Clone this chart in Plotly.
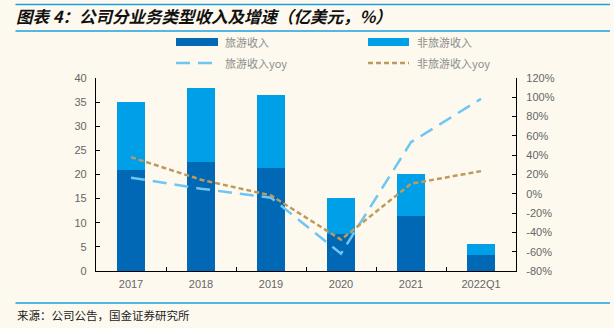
import plotly.graph_objects as go

categories = ["2017", "2018", "2019", "2020", "2021", "2022Q1"]
tour_rev = [21.0, 22.6, 21.3, 7.6, 11.5, 3.3]
total_rev = [35.0, 38.0, 36.5, 15.2, 20.2, 5.7]
nontour_rev = [round(t - a, 2) for t, a in zip(total_rev, tour_rev)]
tour_yoy = [16.7, 5.3, -4.0, -62.0, 53.5, 98.4]
nontour_yoy = [38.0, 14.6, -1.7, -47.5, 10.4, 23.5]

left_ticks = list(range(0, 45, 5))
right_ticks = list(range(-80, 140, 20))

C_DARK = "#0068b5"
C_LIGHT = "#00a0e8"
C_LINE1 = "#6ec6f2"
C_LINE2 = "#c09a5c"
BG = "#fdf9ef"
RULE = "#1a9fe0"
TXT = "#666666"
LEG = "#8c8c8c"
FONT = "Liberation Sans, Noto Sans CJK SC, sans-serif"
CJK = "Noto Sans CJK SC, sans-serif"

W, H = 614, 328
L, R, T, B = 96, 516, 78, 271

fig = go.Figure()
fig.add_trace(go.Bar(x=categories, y=tour_rev, name="旅游收入", marker=dict(color=C_DARK, line=dict(width=0)),
                     width=0.41, showlegend=False))
fig.add_trace(go.Bar(x=categories, y=nontour_rev, name="非旅游收入", marker=dict(color=C_LIGHT, line=dict(width=0)),
                     width=0.41, showlegend=False))
fig.add_trace(go.Scatter(x=categories, y=tour_yoy, name="旅游收入yoy", mode="lines", yaxis="y2",
                         line=dict(color=C_LINE1, width=2.5, dash="14px,8px"), showlegend=False))
fig.add_trace(go.Scatter(x=categories, y=nontour_yoy, name="非旅游收入yoy", mode="lines", yaxis="y2",
                         line=dict(color=C_LINE2, width=2.5, dash="5px,3px"), showlegend=False))


def px(x):
    return (x - L) / (R - L)


def py(y):
    return (B - y) / (B - T)


shapes = []
for yy in (4.5, 31, 303):
    shapes.append(dict(type="line", xref="paper", yref="paper", x0=px(15.5), x1=px(610), y0=py(yy), y1=py(yy),
                       line=dict(color=RULE, width=1.5)))
shapes.append(dict(type="rect", xref="paper", yref="paper", x0=px(176), x1=px(218), y0=py(46), y1=py(38),
                   fillcolor=C_DARK, line=dict(width=0)))
shapes.append(dict(type="rect", xref="paper", yref="paper", x0=px(368), x1=px(409), y0=py(46), y1=py(38),
                   fillcolor=C_LIGHT, line=dict(width=0)))
shapes.append(dict(type="line", xref="paper", yref="paper", x0=px(176), x1=px(218), y0=py(63), y1=py(63),
                   line=dict(color=C_LINE1, width=2.5, dash="14px,8px")))
shapes.append(dict(type="line", xref="paper", yref="paper", x0=px(368), x1=px(409), y0=py(63), y1=py(63),
                   line=dict(color=C_LINE2, width=2.5, dash="5px,3px")))

annotations = [
    dict(text="<b><i>图表 4：公司分业务类型收入及增速（亿美元，%）</i></b>", xref="paper", yref="paper",
         x=px(14), y=py(16), xanchor="left", yanchor="middle", showarrow=False,
         font=dict(family=CJK, size=16.5, color="#111111")),
    dict(text="来源：公司公告，国金证券研究所", xref="paper", yref="paper",
         x=px(15), y=py(315), xanchor="left", yanchor="middle", showarrow=False,
         font=dict(family=CJK, size=11.5, color="#222222")),
]
for xx, yy, t in [(223, 42, "旅游收入"), (415, 42, "非旅游收入"), (223, 63, "旅游收入yoy"), (415, 63, "非旅游收入yoy")]:
    annotations.append(dict(text=t, xref="paper", yref="paper", x=px(xx), y=py(yy), xanchor="left", yanchor="middle",
                            showarrow=False, font=dict(family=CJK, size=11, color=LEG)))

fig.update_layout(
    width=W, height=H, barmode="stack",
    paper_bgcolor=BG, plot_bgcolor=BG,
    margin=dict(l=L, r=W - R, t=T, b=H - B, pad=0),
    font=dict(family=FONT, size=11, color=TXT),
    xaxis=dict(type="category", showline=True, linecolor="#000000", linewidth=1.2, ticks="inside",
               tickson="boundaries", ticklen=4, tickcolor="#000000", showgrid=False, zeroline=False,
               tickfont=dict(size=11, color=TXT), ticklabelstandoff=3, fixedrange=True),
    yaxis=dict(range=[0, 40], tickvals=left_ticks, showline=True, linecolor="#000000", linewidth=1.2,
               ticks="inside", ticklen=4, tickcolor="#000000", showgrid=False, zeroline=False,
               tickfont=dict(size=11, color=TXT), ticklabelstandoff=6),
    yaxis2=dict(range=[-80, 120], tickvals=right_ticks, ticktext=[f"{v}%" for v in right_ticks],
                overlaying="y", side="right", showline=True, linecolor="#000000", linewidth=1.2,
                ticks="inside", ticklen=4, tickcolor="#000000", showgrid=False, zeroline=False,
                tickfont=dict(size=11, color=TXT), ticklabelstandoff=7),
    shapes=shapes, annotations=annotations,
)

fig.write_html("out.html")
